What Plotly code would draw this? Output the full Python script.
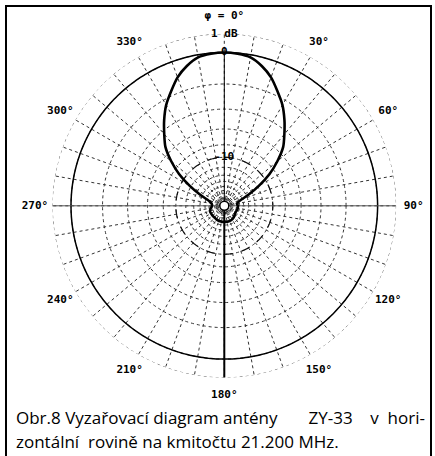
import numpy as np
import plotly.graph_objects as go

# ---------------- data ----------------
pattern_theta = [0, 5, 10, 15, 20, 25, 30, 35, 40, 45, 50, 55, 60, 65, 70, 75, 80, 90,
                 100, 110, 120, 130, 140, 150, 160, 170, 180, 190, 200, 210, 220, 230,
                 240, 250, 260, 270, 280, 285, 290, 295, 300, 305, 310, 315, 320, 325,
                 330, 335, 340, 345, 350, 355, 360]
pattern_db = [0.0, -0.04, -0.15, -0.5, -1.0, -1.7, -2.4, -3.3, -4.3, -5.3, -6.9, -8.9,
              -11.7, -15.0, -18.5, -20.5, -21.5, -21.0, -21.0, -21.2, -21.5, -21.0,
              -20.3, -19.8, -19.6, -19.5, -19.6, -19.6, -19.6, -19.8, -20.0, -20.0,
              -20.0, -20.0, -21.0, -22.0, -21.5, -20.5, -18.5, -15.0, -11.7, -8.9,
              -6.9, -5.3, -4.3, -3.3, -2.4, -1.7, -1.0, -0.5, -0.15, -0.04, 0.0]

ring_db = [1, 0, -2, -4, -6, -8, -10, -12, -14, -16, -18, -20, -22, -24, -26, -28, -30]
db_label_values = [1, 0, -10]
db_label_text = ["1 dB", "0", "-10"]
angle_label_theta = [0, 30, 60, 90, 120, 150, 180, 210, 240, 270, 300, 330]
angle_label_text = ["φ = 0°", "30°", "60°", "90°", "120°", "150°", "180°",
                    "210°", "240°", "270°", "300°", "330°"]
caption_lines = ["Obr.8 Vyzařovací diagram antény       ZY-33    v  hori-",
                 "zontální  rovině na kmitočtu 21.200 MHz."]


def amp(db):
    return 10 ** (np.asarray(db, dtype=float) / 20.0)


R_MAX = float(amp(1))
R_LAB = 1.3
circle_theta = np.linspace(0, 360, 361)
mono = dict(family="DejaVu Sans Mono", size=11, color="black", weight="bold")

fig = go.Figure()

fig.add_trace(go.Scatterpolar(r=np.full(circle_theta.size, R_MAX), theta=circle_theta,
                              mode="lines", line=dict(color="#555", width=1, dash="dot"),
                              hoverinfo="skip", showlegend=False))
fig.add_trace(go.Scatterpolar(r=np.full(circle_theta.size, float(amp(-10))), theta=circle_theta,
                              mode="lines", line=dict(color="#111", width=1.2, dash="dash"),
                              hoverinfo="skip", showlegend=False))
fig.add_trace(go.Scatterpolar(r=np.full(circle_theta.size, 1.0), theta=circle_theta,
                              mode="lines", line=dict(color="black", width=1.5),
                              hoverinfo="skip", showlegend=False))
fig.add_trace(go.Scatterpolar(r=[R_MAX, 0, R_MAX], theta=[270, 0, 90], mode="lines",
                              line=dict(color="#555", width=1), hoverinfo="skip", showlegend=False))
fig.add_trace(go.Scatterpolar(r=[1.0, 0], theta=[0, 0], mode="lines",
                              line=dict(color="black", width=1), hoverinfo="skip", showlegend=False))
fig.add_trace(go.Scatterpolar(r=[0, R_MAX], theta=[180, 180], mode="lines",
                              line=dict(color="black", width=2), hoverinfo="skip", showlegend=False))
fig.add_trace(go.Scatterpolar(r=amp(pattern_db), theta=pattern_theta, mode="lines",
                              line=dict(color="black", width=2.6, shape="spline", smoothing=0.6),
                              hoverinfo="skip", showlegend=False))
fig.add_trace(go.Scatterpolar(r=[0], theta=[0], mode="markers",
                              marker=dict(size=9, color="white", line=dict(color="black", width=1.5)),
                              hoverinfo="skip", showlegend=False))
fig.add_trace(go.Scatterpolar(r=amp(db_label_values), theta=[0] * len(db_label_values),
                              mode="text", text=db_label_text, textposition="middle center",
                              textfont=mono, cliponaxis=False, hoverinfo="skip", showlegend=False))
fig.add_trace(go.Scatterpolar(r=[1.235] * len(angle_label_theta), theta=angle_label_theta,
                              mode="text", text=angle_label_text, textposition="middle center",
                              textfont=mono, subplot="polar2", cliponaxis=False,
                              hoverinfo="skip", showlegend=False))

W, H = 435, 456
cx, cy, rad = 224.3, 205.8, 172.0
rad2 = rad * R_LAB / R_MAX


def dom(r):
    return dict(x=[(cx - r) / W, (cx + r) / W], y=[(H - cy - r) / H, (H - cy + r) / H])


hidden_axis = dict(showticklabels=False, ticks="", showline=False, showgrid=False)
fig.update_layout(
    width=W, height=H,
    margin=dict(l=0, r=0, t=0, b=0, autoexpand=False),
    paper_bgcolor="white",
    showlegend=False,
    polar=dict(
        domain=dom(rad),
        bgcolor="white",
        radialaxis=dict(range=[0, R_MAX], tickmode="array", tickvals=list(amp(ring_db)),
                        showticklabels=False, ticks="", showline=False,
                        gridcolor="#333", gridwidth=1, griddash="dot"),
        angularaxis=dict(rotation=90, direction="clockwise", tickmode="linear", tick0=0,
                         dtick=10, showticklabels=False, ticks="", showline=False,
                         gridcolor="#333", gridwidth=1, griddash="dot"),
    ),
    polar2=dict(
        domain=dom(rad2),
        bgcolor="rgba(0,0,0,0)",
        radialaxis=dict(range=[0, R_LAB], **hidden_axis),
        angularaxis=dict(rotation=90, direction="clockwise", **hidden_axis),
    ),
    shapes=[dict(type="rect", xref="paper", yref="paper",
                 x0=6 / W, x1=431 / W, y0=-0.05, y1=1 - 6 / H,
                 line=dict(color="black", width=2))],
    annotations=[
        dict(text=caption_lines[0], x=14 / W, y=1 - 417 / H, xref="paper", yref="paper",
             xanchor="left", yanchor="middle", showarrow=False,
             font=dict(family="Open Sans", size=17, color="black")),
        dict(text=caption_lines[1], x=14 / W, y=1 - 441 / H, xref="paper", yref="paper",
             xanchor="left", yanchor="middle", showarrow=False,
             font=dict(family="Open Sans", size=17, color="black")),
    ],
)

fig.write_html("out.html", config={"displayModeBar": False},
               post_script="document.body.style.margin='0';document.body.style.overflow='hidden';")
